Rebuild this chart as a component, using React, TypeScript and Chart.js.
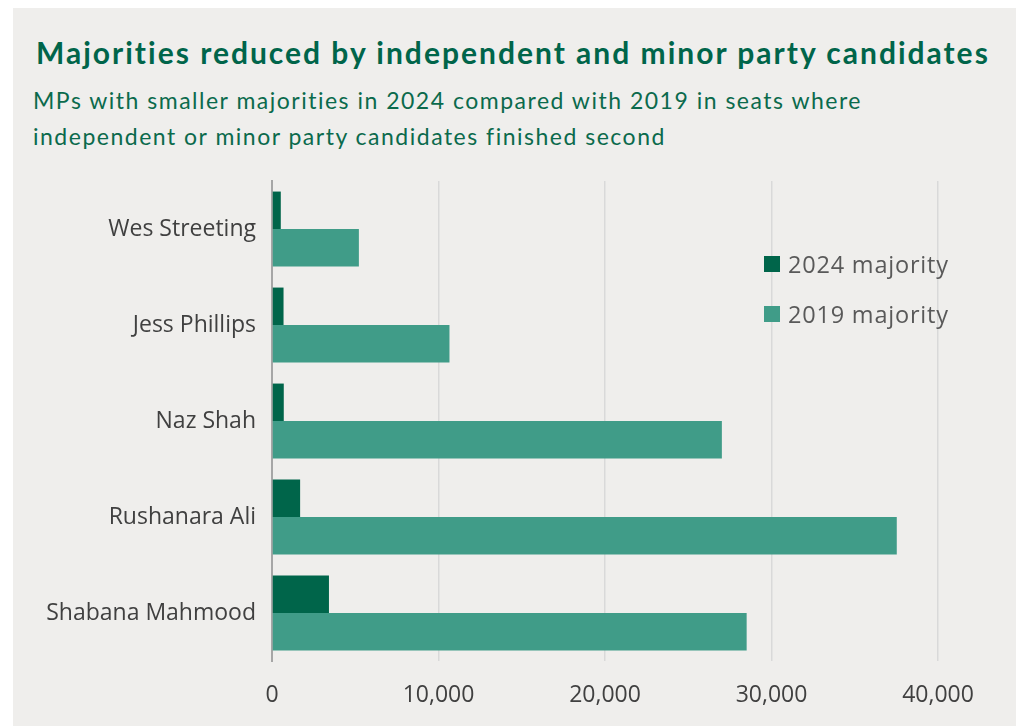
import React, { useEffect, useRef } from "react";
import { Chart, registerables } from "chart.js";

Chart.register(...registerables);

const candidates = ["Wes Streeting", "Jess Phillips", "Naz Shah", "Rushanara Ali", "Shabana Mahmood"];
const majority2024 = [528, 693, 707, 1689, 3421];
const majority2019 = [5218, 10659, 27019, 37524, 28508];
const seriesLabels = ["2024 majority", "2019 majority"];
const seriesColors = ["#00654a", "#409c88"];
const xMin = 0;
const xMax = 40000;
const xStep = 10000;

const titleText = "Majorities reduced by independent and minor party candidates";
const subtitleLines = [
  "MPs with smaller majorities in 2024 compared with 2019 in seats where",
  "independent or minor party candidates finished second",
];

export default function App() {
  const canvasRef = useRef<HTMLCanvasElement | null>(null);

  useEffect(() => {
    const canvas = canvasRef.current;
    if (!canvas) return;
    const chart = new Chart(canvas, {
      type: "bar",
      data: {
        labels: candidates,
        datasets: [
          {
            label: seriesLabels[0],
            data: majority2024,
            backgroundColor: seriesColors[0],
            categoryPercentage: 0.78,
            barPercentage: 1,
          },
          {
            label: seriesLabels[1],
            data: majority2019,
            backgroundColor: seriesColors[1],
            categoryPercentage: 0.78,
            barPercentage: 1,
          },
        ],
      },
      options: {
        indexAxis: "y",
        responsive: false,
        animation: false,
        layout: { padding: { top: 13, right: 78, bottom: 0, left: 0 } },
        plugins: {
          legend: { display: false },
          title: { display: false },
          tooltip: { enabled: false },
        },
        scales: {
          x: {
            min: xMin,
            max: xMax,
            ticks: {
              stepSize: xStep,
              color: "#404040",
              padding: 21,
              font: { family: "'Open Sans', sans-serif", size: 23 },
              callback: (v: any) => Number(v).toLocaleString("en-GB"),
            },
            grid: { color: "#d9d9d9", lineWidth: 1.5, drawTicks: false },
            border: { display: false },
            afterFit: (scale: any) => {
              scale.height = 65;
              scale.paddingLeft = 0;
              scale.paddingRight = 0;
            },
          },
          y: {
            ticks: {
              color: "#404040",
              padding: 16,
              font: { family: "'Open Sans', sans-serif", size: 23 },
            },
            grid: { display: false, drawTicks: false },
            border: { color: "#a6a6a6", width: 2 },
            afterFit: (scale: any) => {
              scale.width = 259;
              scale.paddingTop = 0;
              scale.paddingBottom = 0;
            },
          },
        },
      },
    });
    return () => chart.destroy();
  }, []);

  return (
    <div
      style={{
        position: "absolute",
        left: 13,
        top: 8,
        width: 1003,
        height: 718,
        background: "#efeeec",
        overflow: "hidden",
      }}
    >
      <div
        style={{
          position: "absolute",
          left: 23,
          top: 26,
          fontFamily: "Lato, sans-serif",
          fontWeight: 700,
          fontSize: 30,
          letterSpacing: "2px",
          lineHeight: "36px",
          color: "#00654a",
          whiteSpace: "nowrap",
        }}
      >
        {titleText}
      </div>
      <div
        style={{
          position: "absolute",
          left: 20,
          top: 74,
          fontFamily: "Lato, sans-serif",
          fontWeight: 400,
          fontSize: 23,
          letterSpacing: "1.5px",
          lineHeight: "36px",
          color: "#0b6a4c",
          whiteSpace: "nowrap",
        }}
      >
        {subtitleLines.map((l, i) => (
          <div key={i}>{l}</div>
        ))}
      </div>
      <canvas
        ref={canvasRef}
        width={1003}
        height={558}
        style={{ position: "absolute", left: 0, top: 160, width: 1003, height: 558 }}
      />
      {seriesLabels.map((label, i) => (
        <div
          key={label}
          style={{
            position: "absolute",
            left: 751,
            top: 240 + i * 50,
            height: 32,
            display: "flex",
            alignItems: "center",
            fontFamily: "'Open Sans', sans-serif",
            fontSize: 23.5,
            letterSpacing: "0.8px",
            color: "#595959",
            whiteSpace: "nowrap",
          }}
        >
          <span
            style={{
              display: "inline-block",
              width: 16,
              height: 16,
              background: seriesColors[i],
              marginRight: 8,
            }}
          />
          {label}
        </div>
      ))}
    </div>
  );
}
